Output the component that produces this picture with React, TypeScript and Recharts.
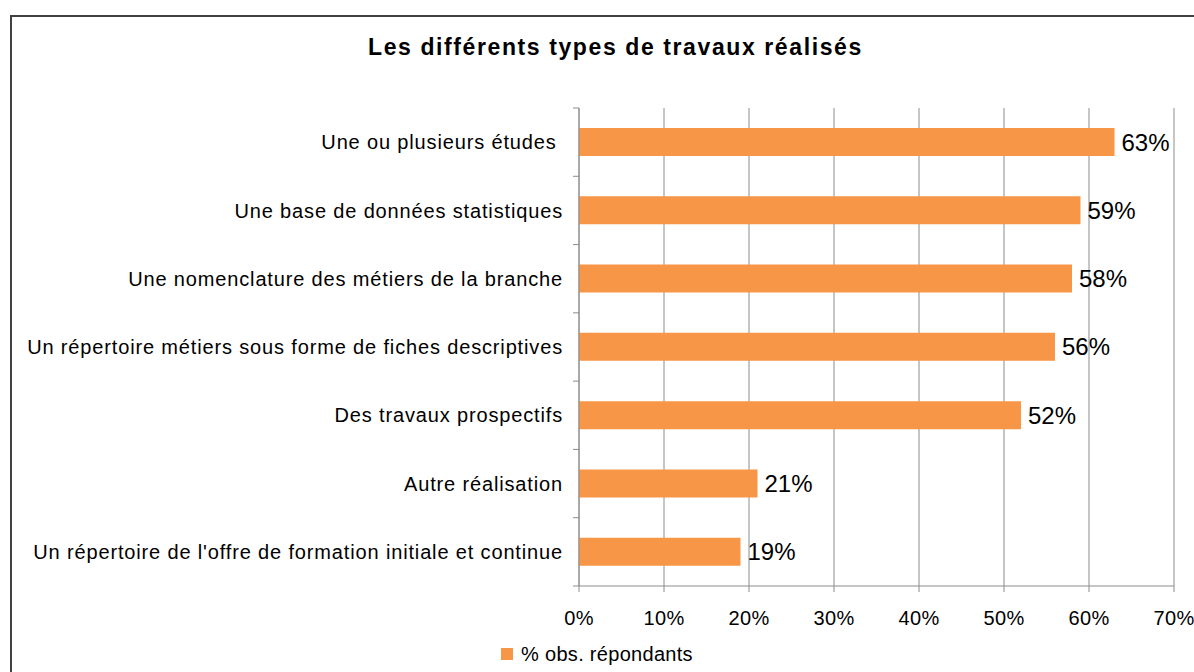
import React from 'react'
import { BarChart, Bar, XAxis, YAxis, CartesianGrid, Legend, LabelList } from 'recharts'

const title = 'Les différents types de travaux réalisés'
const seriesName = '% obs. répondants'

const categories = [
  'Une ou plusieurs études ',
  'Une base de données statistiques',
  'Une nomenclature des métiers de la branche',
  'Un répertoire métiers sous forme de fiches descriptives',
  'Des travaux prospectifs',
  'Autre réalisation',
  "Un répertoire de l'offre de formation initiale et continue",
]
const values = [63, 59, 58, 56, 52, 21, 19]
const xTicks = [0, 10, 20, 30, 40, 50, 60, 70]

const data = categories.map((name, i) => ({ name, value: values[i] }))

const FONT = '"Liberation Sans", Arial, sans-serif'
const ORANGE = '#F79646'
const GRID = '#8c8c8c'
const TICK_SIZE = 6
const TICK_MARGIN = 10

// label plus the Excel style tick marks that sit between categories
function CategoryTick(props: any) {
  const { x, y, payload, index } = props
  const half = payload && payload.offset ? payload.offset : 0
  const axisX = x + TICK_SIZE + TICK_MARGIN
  return (
    <g>
      <line x1={axisX - TICK_SIZE} x2={axisX} y1={y - half} y2={y - half} stroke={GRID} />
      {index === categories.length - 1 && (
        <line x1={axisX - TICK_SIZE} x2={axisX} y1={y + half} y2={y + half} stroke={GRID} />
      )}
      <text
        x={x}
        y={y}
        dy="0.36em"
        textAnchor="end"
        fontFamily={FONT}
        fontSize={20}
        letterSpacing={0.85}
        fill="#000"
        style={{ whiteSpace: 'pre' }}
      >
        {payload.value}
      </text>
    </g>
  )
}

function LegendContent(props: any) {
  const item = (props.payload && props.payload[0]) || { value: seriesName, color: ORANGE }
  return (
    <div
      style={{
        display: 'flex',
        justifyContent: 'center',
        alignItems: 'center',
        height: 24,
        fontFamily: FONT,
        fontSize: 20,
        letterSpacing: 0.3,
        color: '#000',
      }}
    >
      <span style={{ width: 12, height: 12, background: item.color || ORANGE, marginRight: 8, display: 'inline-block' }} />
      <span>{item.value}</span>
    </div>
  )
}

export default function App() {
  return (
    <div
      style={{
        position: 'absolute',
        left: 0,
        top: 0,
        width: 1194,
        height: 672,
        overflow: 'hidden',
        background: '#fff',
      }}
    >
      <div
        style={{
          position: 'absolute',
          left: 10,
          top: 15,
          width: 1300,
          height: 800,
          border: '2px solid #404040',
        }}
      />
      <div
        style={{
          position: 'absolute',
          left: 368,
          top: 36,
          fontFamily: FONT,
          fontSize: 23,
          fontWeight: 'bold',
          letterSpacing: 1.6,
          lineHeight: '23px',
          whiteSpace: 'nowrap',
          color: '#000',
        }}
      >
        {title}
      </div>
      <div style={{ position: 'absolute', left: 0, top: 0 }}>
        <BarChart
          width={1194}
          height={672}
          data={data}
          layout="vertical"
          margin={{ top: 108, right: 20, bottom: 6, left: 0 }}
        >
          <CartesianGrid horizontal={false} vertical={true} stroke={GRID} />
          <XAxis
            type="number"
            domain={[0, 70]}
            ticks={xTicks}
            tickFormatter={(v: number) => v + '%'}
            height={56}
            tickSize={6}
            tickMargin={19}
            stroke={GRID}
            tick={{ fill: '#000', fontSize: 20, fontFamily: FONT, letterSpacing: 0.3 }}
            interval={0}
          />
          <YAxis
            type="category"
            dataKey="name"
            width={579}
            tickLine={false}
            tickSize={TICK_SIZE}
            tickMargin={TICK_MARGIN}
            stroke={GRID}
            tick={<CategoryTick />}
            interval={0}
          />
          <Legend
            verticalAlign="bottom"
            content={<LegendContent />}
            wrapperStyle={{ left: 0, width: 1194, bottom: 6 }}
          />
          <Bar dataKey="value" name={seriesName} fill={ORANGE} barSize={28} isAnimationActive={false}>
            <LabelList
              dataKey="value"
              position="right"
              offset={7}
              formatter={(v: any) => v + '%'}
              fill="#000"
              fontSize={24}
              fontFamily={FONT}
            />
          </Bar>
        </BarChart>
      </div>
    </div>
  )
}
